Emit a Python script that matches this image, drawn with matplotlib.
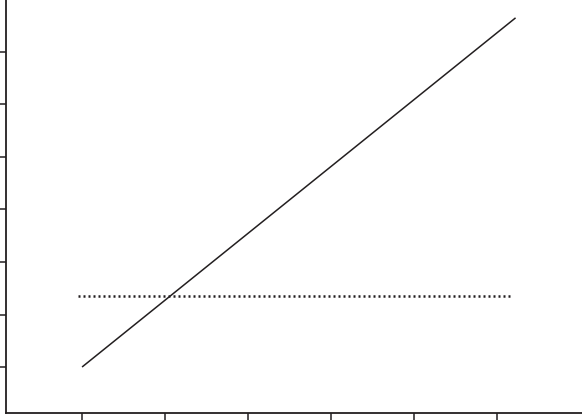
import matplotlib
matplotlib.use('Agg')
import matplotlib.pyplot as plt

# data (arbitrary units, tick spacing = 1)
line_x = [1.0, 6.22]
line_y = [1.0, 7.65]
dot_x = [0.95, 6.19]
dot_y = [2.35, 2.35]
x_ticks = [1, 2, 3, 4, 5, 6]
y_ticks = [1, 2, 3, 4, 5, 6, 7]

ink = '#231f20'

fig = plt.figure(figsize=(5.82, 4.2), dpi=100)
ax = fig.add_axes([6/582, 7/420, 576/582, 413/420])

ax.plot(line_x, line_y, color=ink, lw=1.1, solid_capstyle='butt')
ax.plot(dot_x, dot_y, color=ink, lw=1.8, linestyle=(0, (0.8, 1.2)))

ax.set_xlim(0.084, 7.02)
ax.set_ylim(0.124, 7.99)
ax.set_xticks(x_ticks)
ax.set_yticks(y_ticks)
ax.set_xticklabels([])
ax.set_yticklabels([])
ax.tick_params(direction='out', length=5, width=1.1, color=ink)

for s in ['top', 'right']:
    ax.spines[s].set_visible(False)
for s in ['left', 'bottom']:
    ax.spines[s].set_linewidth(1.3)
    ax.spines[s].set_color(ink)

fig.savefig('out.png', dpi=100)
